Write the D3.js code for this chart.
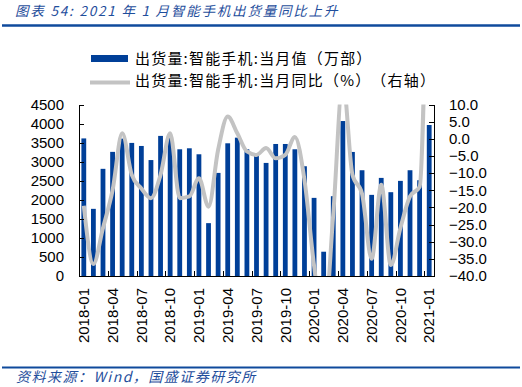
<!DOCTYPE html>
<html>
<head>
<meta charset="utf-8">
<script src="https://cdn.jsdelivr.net/npm/d3@7"></script>
<style>
  body { margin: 0; background: #fff; }
  svg { display: block; }
  text { text-spacing-trim: space-all; }
  .axis text { font-family: "Liberation Sans", Arial, sans-serif; font-size: 15px; fill: #000; }
  .axis path, .axis line { stroke: #000; shape-rendering: crispEdges; }
</style>
</head>
<body>
<script>
// monthly categories
var months = [
  "2018-01","2018-02","2018-03","2018-04","2018-05","2018-06","2018-07","2018-08","2018-09","2018-10","2018-11","2018-12",
  "2019-01","2019-02","2019-03","2019-04","2019-05","2019-06","2019-07","2019-08","2019-09","2019-10","2019-11","2019-12",
  "2020-01","2020-02","2020-03","2020-04","2020-05","2020-06","2020-07","2020-08","2020-09","2020-10","2020-11","2020-12",
  "2021-01"
];

// 出货量:智能手机:当月值（万部）
var shipments = [
  3610, 1762, 2812, 3257, 3605, 3492, 3412, 3042, 3676, 3650, 3325, 3351,
  3194, 1387, 2705, 3482, 3630, 3325, 3220, 2967, 3464, 3464, 3325, 2880,
  2050, 637, 2094, 4066, 3255, 2775, 2129, 2574, 2199, 2496, 2775, 2513,
  3962
];

// 出货量:智能手机:当月同比（%）
var yoy = [
  -19.5, -36.5, -26.0, -15.0, 1.6, -10.5, -14.5, -17.3, -10.5, 1.6, -17.3, -16.8,
  -11.5, -19.8, -3.2, 6.5, 1.6, -3.7, -4.7, -2.7, -5.7, -4.7, 0.5, -12.0,
  -37.0, -55.0, -22.0, 17.0, -10.5, -16.0, -35.0, -13.4, -36.8, -26.0, -16.8, -14.0,
  93.0
];

var leftTicks = [0, 500, 1000, 1500, 2000, 2500, 3000, 3500, 4000, 4500];
var rightTicks = [-40, -35, -30, -25, -20, -15, -10, -5, 0, 5, 10];
var xLabels = months.filter(function(d, i) { return i % 3 === 0; });

var titleText = "图表 54:  2021 年 1 月智能手机出货量同比上升";
var legendBar = "出货量:智能手机:当月值（万部）";
var legendLine = "出货量:智能手机:当月同比（%）（右轴）";
var sourceText = "资料来源：Wind，国盛证券研究所";

var width = 522, height = 387;
var plot = { left: 79, right: 434, top: 104.5, bottom: 276 };
var blue = "#003f98";
var gray = "#c3c3c3";
var cjk = '"Noto Sans CJK SC", "Noto Sans", sans-serif';

var svg = d3.select("body").append("svg")
  .attr("width", width)
  .attr("height", height);

// title + rules
svg.append("text")
  .attr("x", 15).attr("y", 16)
  .attr("font-family", cjk)
  .attr("font-size", "13.5px")
  .attr("font-style", "italic")
  .attr("letter-spacing", "1.8px")
  .attr("fill", "#1f4e9c")
  .text(titleText);

svg.append("line")
  .attr("x1", 2).attr("x2", 520).attr("y1", 25.5).attr("y2", 25.5)
  .attr("stroke", "#0f4a9c").attr("stroke-width", 2.5);

svg.append("line")
  .attr("x1", 2).attr("x2", 520).attr("y1", 367.5).attr("y2", 367.5)
  .attr("stroke", "#0f4a9c").attr("stroke-width", 2);

svg.append("text")
  .attr("x", 16).attr("y", 382)
  .attr("font-family", cjk)
  .attr("font-size", "14px")
  .attr("font-style", "italic")
  .attr("letter-spacing", "1.5px")
  .attr("fill", "#1f4e9c")
  .text(sourceText);

// legend
var legend = svg.append("g")
  .attr("font-family", cjk)
  .attr("font-size", "15px")
  .attr("letter-spacing", "1.2px");
legend.append("rect")
  .attr("x", 91).attr("y", 55).attr("width", 37).attr("height", 7)
  .attr("fill", blue);
legend.append("text")
  .attr("x", 135).attr("y", 58.5).attr("dy", "0.35em")
  .text(legendBar);
legend.append("line")
  .attr("x1", 90).attr("x2", 130).attr("y1", 82.5).attr("y2", 82.5)
  .attr("stroke", gray).attr("stroke-width", 4);
legend.append("text")
  .attr("x", 135).attr("y", 81).attr("dy", "0.35em")
  .text(legendLine);

// scales
var x = d3.scaleBand()
  .domain(months)
  .range([plot.left, plot.right])
  .paddingInner(0.5)
  .paddingOuter(0.25);

var yL = d3.scaleLinear().domain([0, 4500]).range([plot.bottom, plot.top]);
var yR = d3.scaleLinear().domain([-40, 10]).range([plot.bottom, plot.top]);

// bars
svg.append("g").selectAll("rect")
  .data(shipments)
  .enter()
  .append("rect")
  .attr("x", function(d, i) { return x(months[i]); })
  .attr("y", function(d) { return yL(d); })
  .attr("width", x.bandwidth())
  .attr("height", function(d) { return yL(0) - yL(d); })
  .attr("fill", blue);

// yoy line, clipped to plot area
svg.append("clipPath").attr("id", "clip")
  .append("rect")
  .attr("x", plot.left).attr("y", plot.top)
  .attr("width", plot.right - plot.left)
  .attr("height", plot.bottom - plot.top);

var line = d3.line()
  .x(function(d, i) { return x(months[i]) + x.bandwidth() / 2; })
  .y(function(d) { return yR(d); })
  .curve(d3.curveMonotoneX);

svg.append("path")
  .datum(yoy)
  .attr("clip-path", "url(#clip)")
  .attr("d", line)
  .attr("fill", "none")
  .attr("stroke", gray)
  .attr("stroke-width", 4)
  .attr("stroke-linejoin", "round");

// left axis
svg.append("g")
  .attr("class", "axis")
  .attr("transform", "translate(" + plot.left + ",0)")
  .call(d3.axisLeft(yL).tickValues(leftTicks).tickFormat(d3.format("d"))
    .tickSizeInner(-5).tickSizeOuter(0).tickPadding(15));

// right axis
svg.append("g")
  .attr("class", "axis")
  .attr("transform", "translate(" + plot.right + ",0)")
  .call(d3.axisRight(yR).tickValues(rightTicks).tickFormat(d3.format(".1f"))
    .tickSizeInner(-5).tickSizeOuter(0).tickPadding(15));

// bottom axis: ticks at quarter boundaries, labels under first month of quarter
var xAxis = svg.append("g")
  .attr("class", "axis")
  .attr("transform", "translate(0," + plot.bottom + ")");

xAxis.append("line")
  .attr("x1", plot.left).attr("x2", plot.right)
  .attr("y1", 0.5).attr("y2", 0.5);

xAxis.selectAll(".qtick")
  .data(xLabels)
  .enter()
  .append("line")
  .attr("class", "qtick")
  .attr("x1", function(d) { return Math.round(x(d) - x.bandwidth() / 2) + 0.5; })
  .attr("x2", function(d) { return Math.round(x(d) - x.bandwidth() / 2) + 0.5; })
  .attr("y1", 0).attr("y2", -5);

xAxis.selectAll(".xlab")
  .data(xLabels)
  .enter()
  .append("text")
  .attr("class", "xlab")
  .attr("transform", function(d) {
    return "translate(" + (x(d) + x.bandwidth() / 2) + ",12) rotate(-90)";
  })
  .attr("text-anchor", "end")
  .attr("dy", "0.35em")
  .text(function(d) { return d; });
</script>
</body>
</html>
